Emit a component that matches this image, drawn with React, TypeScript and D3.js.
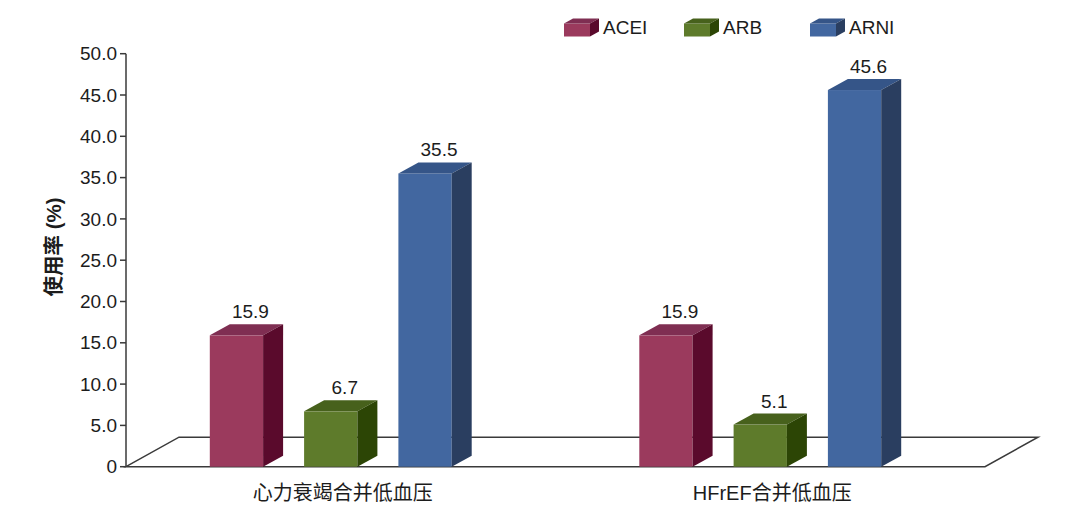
import React from "react";
import * as d3 from "d3";

const categories = ["心力衰竭合并低血压", "HFrEF合并低血压"];
const seriesNames = ["ACEI", "ARB", "ARNI"];
const aceiValues = [15.9, 15.9];
const arbValues = [6.7, 5.1];
const arniValues = [35.5, 45.6];
const yTickValues = [0, 5, 10, 15, 20, 25, 30, 35, 40, 45, 50];
const yTickLabels = ["0", "5.0", "10.0", "15.0", "20.0", "25.0", "30.0", "35.0", "40.0", "45.0", "50.0"];

const seriesColors: Record<string, { front: string; top: string; side: string }> = {
  ACEI: { front: "#9B3A5D", top: "#7F2E52", side: "#5A0A2C" },
  ARB: { front: "#5E7B2B", top: "#47611C", side: "#2C4505" },
  ARNI: { front: "#4267A0", top: "#355588", side: "#2A3E60" },
};

const W = 1080;
const H = 511;
const FONT = "'Liberation Sans', Arial, 'Noto Sans CJK SC', sans-serif";
const TEXT = "#1c1c1c";
const LINE = "#3a3a3a";

export default function App() {
  const axisX = 126;
  const plotRight = 985;
  const y = d3.scaleLinear().domain([0, 50]).range([466.7, 53.7]);
  const x0 = d3.scaleBand<string>().domain(categories).range([axisX, plotRight]).padding(0);
  const barW = 53.3;
  const gap = 41;
  const step = barW + gap;
  const depthX = 20;
  const depthY = 11;
  const groupW = step * 3 - gap;
  const x1 = d3
    .scaleBand<string>()
    .domain(seriesNames)
    .range([0, groupW])
    .paddingInner(gap / step)
    .paddingOuter(0);
  const floorDx = 53;
  const floorDy = 29.5;
  const valuesBy: Record<string, number[]> = { ACEI: aceiValues, ARB: arbValues, ARNI: arniValues };
  const y0 = y(0);

  const bars: any[] = [];
  categories.forEach((cat, ci) => {
    const bandStart = x0(cat)!;
    const start = bandStart + (x0.bandwidth() - groupW - depthX) / 2;
    seriesNames.forEach((s) => {
      const v = valuesBy[s][ci];
      const xl = start + x1(s)!;
      const xr = xl + x1.bandwidth();
      const yt = y(v);
      const c = seriesColors[s];
      bars.push(
        <g key={cat + s}>
          <rect x={xl} y={yt} width={xr - xl} height={y0 - yt} fill={c.front} />
          <polygon
            points={`${xl},${yt} ${xl + depthX},${yt - depthY} ${xr + depthX},${yt - depthY} ${xr},${yt}`}
            fill={c.top}
          />
          <polygon
            points={`${xr},${yt} ${xr + depthX},${yt - depthY} ${xr + depthX},${y0 - depthY} ${xr},${y0}`}
            fill={c.side}
          />
          <text
            x={(xl + xr) / 2 + depthX / 2 + 4}
            y={yt - depthY - 6}
            textAnchor="middle"
            fontSize={19}
            fill={TEXT}
            fontFamily={FONT}
          >
            {v.toFixed(1)}
          </text>
        </g>
      );
    });
  });

  const legendX = [564, 684, 810];
  const legendCube = (x: number, s: string) => {
    const c = seriesColors[s];
    const w = 26, h = 13, dx = 9, dy = 5, yTop = 23.5;
    return (
      <g>
        <rect x={x} y={yTop} width={w} height={h} fill={c.front} />
        <polygon points={`${x},${yTop} ${x + dx},${yTop - dy} ${x + w + dx},${yTop - dy} ${x + w},${yTop}`} fill={c.top} />
        <polygon points={`${x + w},${yTop} ${x + w + dx},${yTop - dy} ${x + w + dx},${yTop + h - dy} ${x + w},${yTop + h}`} fill={c.side} />
      </g>
    );
  };

  return (
    <svg width={W} height={H} style={{ position: "absolute", left: 0, top: 0, background: "#fff" }}>
      <rect width={W} height={H} fill="#fff" />
      {/* floor */}
      <polygon
        points={`${axisX},${y0} ${axisX + floorDx},${y0 - floorDy} ${plotRight + floorDx},${y0 - floorDy} ${plotRight},${y0}`}
        fill="none"
        stroke={LINE}
        strokeWidth={1.5}
      />
      {/* y axis */}
      <line x1={axisX} x2={axisX} y1={y(50)} y2={y0} stroke={LINE} strokeWidth={1.5} />
      {yTickValues.map((t, i) => (
        <g key={t}>
          <line x1={axisX - 6} x2={axisX} y1={y(t)} y2={y(t)} stroke={LINE} strokeWidth={1.5} />
          <text
            x={axisX - 9}
            y={y(t)}
            dy="0.35em"
            textAnchor="end"
            fontSize={19}
            fill={TEXT}
            fontFamily={FONT}
          >
            {yTickLabels[i]}
          </text>
        </g>
      ))}
      {bars}
      {/* category labels */}
      {categories.map((cat) => (
        <text
          key={cat}
          x={x0(cat)! + x0.bandwidth() / 2 + 2}
          y={500}
          textAnchor="middle"
          fontSize={20}
          fill={TEXT}
          fontFamily={FONT}
        >
          {cat}
        </text>
      ))}
      {/* y title */}
      <text
        transform={`translate(61,247) rotate(-90)`}
        textAnchor="middle"
        fontSize={20.5}
        fontWeight="bold"
        fill={TEXT}
        fontFamily={FONT}
      >
        使用率 (%)
      </text>
      {/* legend */}
      {seriesNames.map((s, i) => (
        <g key={s}>
          {legendCube(legendX[i], s)}
          <text x={legendX[i] + 39} y={27} dy="0.35em" fontSize={19} fill={TEXT} fontFamily={FONT}>
            {s}
          </text>
        </g>
      ))}
    </svg>
  );
}
